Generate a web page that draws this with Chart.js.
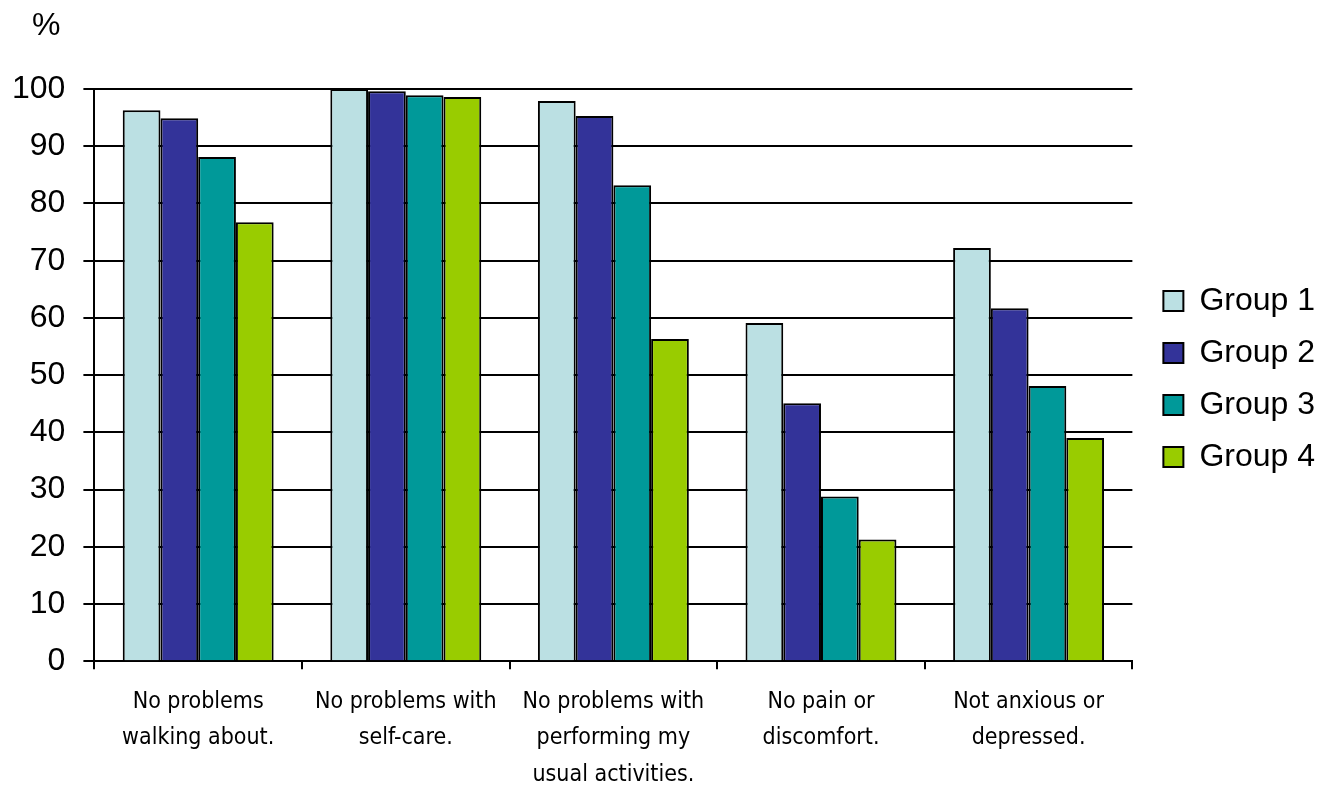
<!DOCTYPE html>
<html>
<head>
<meta charset="utf-8">
<script src="https://cdn.jsdelivr.net/npm/chart.js@4/dist/chart.umd.min.js"></script>
<style>
  html, body { margin: 0; padding: 0; background: #fff; }
  #wrap { width: 1318px; height: 785px; }
</style>
</head>
<body>
<div id="wrap"><canvas id="eqChart"></canvas></div>
<script>
const categories = [
    ['No problems', 'walking about.'],
    ['No problems with', 'self-care.'],
    ['No problems with', 'performing my', 'usual activities.'],
    ['No pain or', 'discomfort.'],
    ['Not anxious or', 'depressed.']
];
const group1 = [96.3, 100, 97.9, 59.1, 72.2];
const group2 = [94.9, 99.6, 95.3, 45.1, 61.7];
const group3 = [88.1, 98.9, 83.2, 28.8, 48.1];
const group4 = [76.7, 98.6, 56.3, 21.3, 39.0];
const yTicks = [0, 10, 20, 30, 40, 50, 60, 70, 80, 90, 100];

const sans = "'Liberation Sans', Arial, sans-serif";
const narrow = "'Liberation Sans Narrow', 'DejaVu Sans Condensed', sans-serif";

// "%" unit label top left
const unitLabel = {
    id: 'unitLabel',
    afterDraw(chart) {
        const c = chart.ctx;
        c.save();
        c.font = '32px ' + sans;
        c.fillStyle = '#000';
        c.textBaseline = 'middle';
        c.textAlign = 'left';
        c.fillText('%', 32, 26);
        c.restore();
    }
};

function bars(label, data, color) {
    return {
        label: label,
        data: data,
        backgroundColor: color,
        borderColor: '#000',
        borderWidth: 2,
        borderSkipped: 'bottom'
    };
}

document.addEventListener('DOMContentLoaded', function () {
    const ctx = document.getElementById('eqChart').getContext('2d');
    new Chart(ctx, {
        type: 'bar',
        data: {
            labels: categories,
            datasets: [
                bars('Group 1', group1, '#BBE0E3'),
                bars('Group 2', group2, '#333399'),
                bars('Group 3', group3, '#009999'),
                bars('Group 4', group4, '#99CC00')
            ]
        },
        options: {
            responsive: true,
            maintainAspectRatio: false,
            animation: false,
            layout: { padding: { top: 89, left: -6, right: -7, bottom: -22 } },
            datasets: { bar: { barPercentage: 1.0, categoryPercentage: 0.727 } },
            plugins: {
                legend: {
                    position: 'right',
                    align: 'start',
                    // empty title used only as a spacer above the items
                    title: {
                        display: true,
                        text: '',
                        font: { size: 10, lineHeight: 1 },
                        padding: { top: 0, bottom: 166 }
                    },
                    labels: {
                        color: '#000',
                        font: { size: 32, family: sans },
                        boxWidth: 20,
                        boxHeight: 20,
                        padding: 20,
                        useBorderRadius: false
                    }
                },
                tooltip: { enabled: false }
            },
            scales: {
                x: {
                    grid: {
                        offset: true,
                        drawOnChartArea: false,
                        color: '#000',
                        lineWidth: 2,
                        tickLength: 8
                    },
                    border: { color: '#000', width: 2 },
                    ticks: {
                        color: '#000',
                        maxRotation: 0,
                        autoSkip: false,
                        padding: 14,
                        font: { size: 23, family: narrow, lineHeight: 1.59 }
                    }
                },
                y: {
                    min: 0,
                    max: 100,
                    afterBuildTicks(axis) { axis.ticks = yTicks.map(v => ({ value: v })); },
                    grid: {
                        color: '#000',
                        lineWidth: 2,
                        tickLength: 11
                    },
                    border: { color: '#000', width: 2 },
                    ticks: {
                        color: '#000',
                        padding: 18,
                        font: { size: 32, family: sans }
                    }
                },
                // empty spacer between plot and legend
                gap: {
                    type: 'linear',
                    position: 'right',
                    display: true,
                    grid: { display: false },
                    border: { display: false },
                    ticks: { display: false },
                    afterFit(axis) { axis.width = 11; }
                }
            }
        },
        plugins: [unitLabel]
    });
});
</script>
</body>
</html>
